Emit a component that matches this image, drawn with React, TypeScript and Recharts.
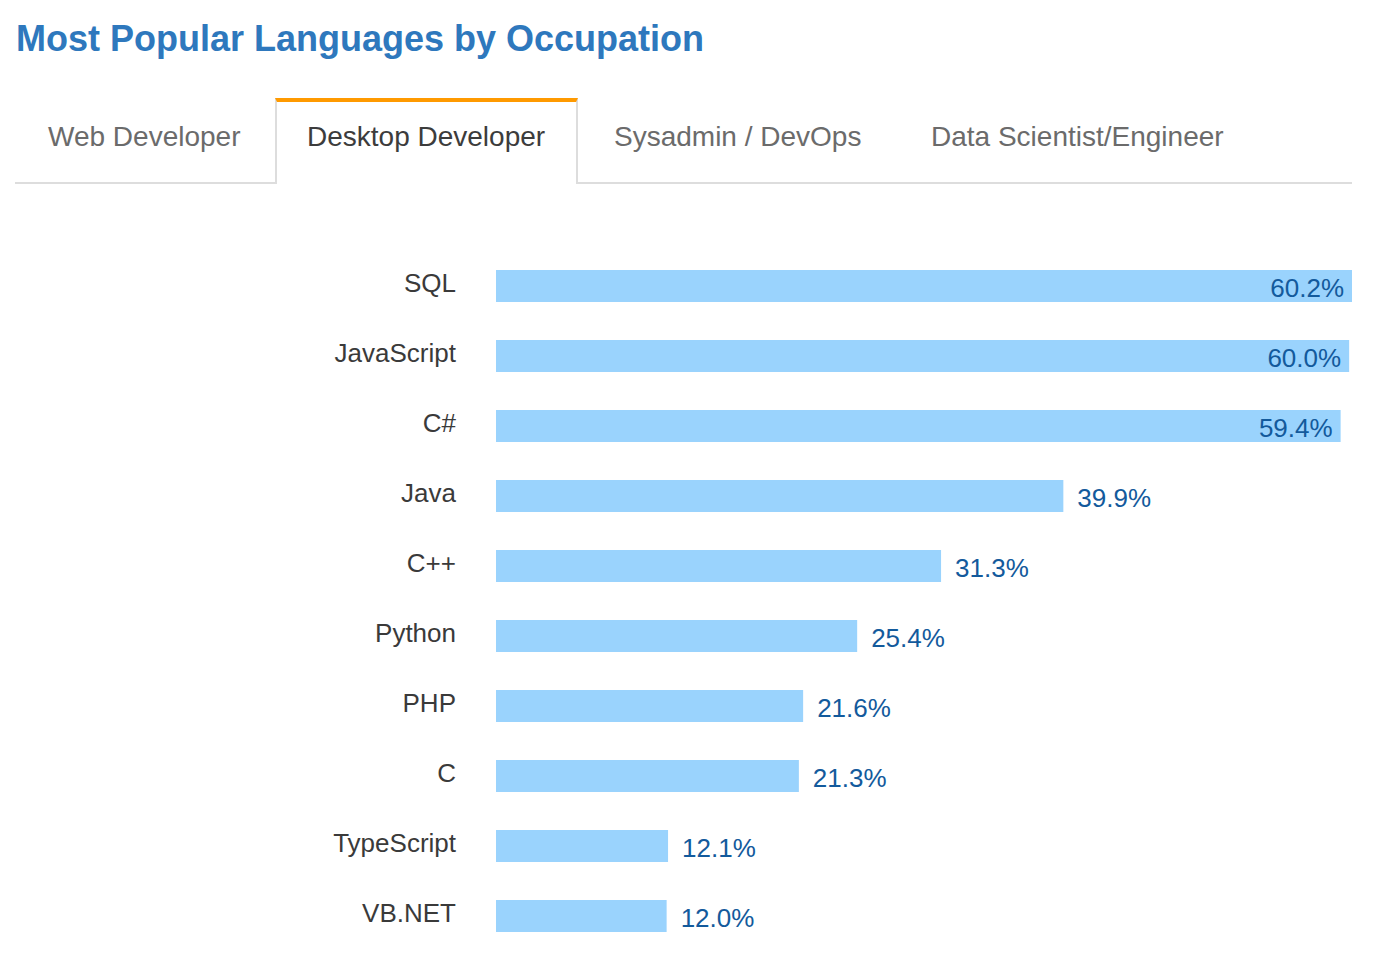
import { BarChart, Bar, XAxis, YAxis, LabelList } from "recharts";

const languages = ["SQL", "JavaScript", "C#", "Java", "C++", "Python", "PHP", "C", "TypeScript", "VB.NET"];
const shares = [60.2, 60.0, 59.4, 39.9, 31.3, 25.4, 21.6, 21.3, 12.1, 12.0];
const tabs = ["Web Developer", "Desktop Developer", "Sysadmin / DevOps", "Data Scientist/Engineer"];
const activeTab = 1;

const data = languages.map((name, i) => ({ name, value: shares[i] }));

const FONT = '"Liberation Sans", Arial, Helvetica, sans-serif';
const tabLeft = [48, 307, 614, 931];

function LangTick(props: any) {
  const { x, y, payload } = props;
  return (
    <text x={x} y={y + 6} textAnchor="end" fontSize={26} fill="#3a3a3a" fontFamily={FONT}>
      {payload.value}
    </text>
  );
}

function ValueLabel(props: any) {
  const { x, y, width, height, value } = props;
  const inside = value > 50;
  return (
    <text
      x={inside ? x + width - 8 : x + width + 14}
      y={y + height / 2 + 11}
      textAnchor={inside ? "end" : "start"}
      fontSize={26}
      fill="#135a9c"
      fontFamily={FONT}
    >
      {value.toFixed(1)}%
    </text>
  );
}

export default function App() {
  return (
    <div style={{ position: "absolute", left: 0, top: 0, width: 1378, height: 954, background: "#fff", fontFamily: FONT }}>
      <div style={{ position: "absolute", left: 16, top: 21, fontSize: 36, lineHeight: "36px", fontWeight: "bold", color: "#2e78bd", whiteSpace: "nowrap" }}>
        Most Popular Languages by Occupation
      </div>

      {/* tab strip */}
      <div style={{ position: "absolute", left: 15, top: 182, width: 1337, height: 2, background: "#dddddd" }} />
      <div
        style={{
          position: "absolute", left: 275, top: 98, width: 299, height: 82,
          borderTop: "4px solid #ff9a00", borderLeft: "2px solid #dddddd", borderRight: "2px solid #dddddd",
          background: "#fff",
        }}
      />
      {tabs.map((t, i) => (
        <div
          key={t}
          style={{
            position: "absolute", left: tabLeft[i], top: 123, fontSize: 28, lineHeight: "28px",
            color: i === activeTab ? "#3c3c3c" : "#6b6b6b", whiteSpace: "nowrap",
          }}
        >
          {t}
        </div>
      ))}

      <div style={{ position: "absolute", left: 0, top: 251 }}>
        <BarChart width={1378} height={703} data={data} layout="vertical" margin={{ top: 0, right: 26, bottom: 3, left: 0 }}>
          <XAxis type="number" domain={[0, 60.2]} hide />
          <YAxis
            type="category"
            dataKey="name"
            width={496}
            axisLine={false}
            tickLine={false}
            tickSize={6}
            tickMargin={34}
            tick={<LangTick />}
            interval={0}
          />
          <Bar dataKey="value" fill="#9ad3fd" barSize={32} isAnimationActive={false}>
            <LabelList dataKey="value" content={<ValueLabel />} />
          </Bar>
        </BarChart>
      </div>
    </div>
  );
}
